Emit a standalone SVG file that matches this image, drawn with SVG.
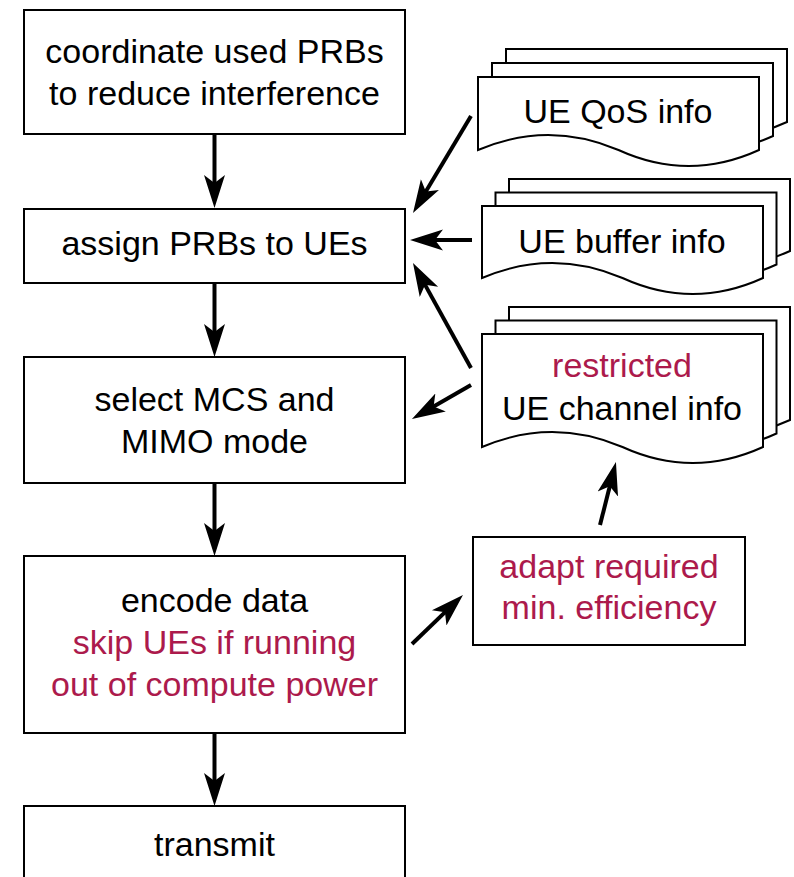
<svg xmlns="http://www.w3.org/2000/svg" width="794" height="877" viewBox="0 0 794 877">
<defs>
<style>
.box{fill:#fff;stroke:#000;stroke-width:2}
.doc{fill:#fff;stroke:#000;stroke-width:2;stroke-linejoin:miter}
.t{font-family:"Liberation Sans",Arial,sans-serif;font-size:34px;fill:#000;text-anchor:middle}
.r{fill:#AC1A4C}
.c{stroke:#000;stroke-width:4;fill:none;marker-end:url(#ah)}
</style>
<marker id="ah" markerUnits="userSpaceOnUse" markerWidth="40" markerHeight="30" viewBox="0 -15 40 30" refX="10" refY="0" orient="auto">
<path d="M0,-10.5 L33,0 L0,10.5 L8,0 Z" fill="#000"/>
</marker>
<path id="docQ" d="M0,0 H281 V73 Q210.75,105 140.5,73 Q70.25,43 0,73 Z"/>
<path id="docB" d="M0,0 H281 V72 Q210.75,104 140.5,72 Q70.25,42 0,72 Z"/>
<path id="docC" d="M0,0 H281 V113 Q210.75,145 140.5,113 Q70.25,83 0,113 Z"/>
</defs>

<g id="coordinate">
<rect class="box" x="24" y="10" width="381" height="124"/>
<text class="t" x="214.5" y="63">coordinate used PRBs</text>
<text class="t" x="214.5" y="105">to reduce interference</text>
</g>

<g id="assign">
<rect class="box" x="24" y="209" width="381" height="74"/>
<text class="t" x="214.5" y="255">assign PRBs to UEs</text>
</g>

<g id="select">
<rect class="box" x="24" y="357" width="381" height="126"/>
<text class="t" x="214.5" y="411">select MCS and</text>
<text class="t" x="214.5" y="453">MIMO mode</text>
</g>

<g id="encode">
<rect class="box" x="24" y="556" width="381" height="177"/>
<text class="t" x="214.5" y="612">encode data</text>
<text class="t r" x="214.5" y="654">skip UEs if running</text>
<text class="t r" x="214.5" y="696">out of compute power</text>
</g>

<g id="transmit">
<rect class="box" x="24" y="806" width="381" height="100"/>
<text class="t" x="214.5" y="856">transmit</text>
</g>

<g id="qos">
<use href="#docQ" class="doc" x="506" y="49"/>
<use href="#docQ" class="doc" x="492" y="63"/>
<use href="#docQ" class="doc" x="478" y="77"/>
<text class="t" x="618" y="123">UE QoS info</text>
</g>

<g id="buffer">
<use href="#docB" class="doc" x="509" y="179"/>
<use href="#docB" class="doc" x="495.5" y="192.5"/>
<use href="#docB" class="doc" x="482" y="206"/>
<text class="t" x="622" y="253">UE buffer info</text>
</g>

<g id="channel">
<use href="#docC" class="doc" x="509" y="307"/>
<use href="#docC" class="doc" x="495.5" y="320.5"/>
<use href="#docC" class="doc" x="482" y="334"/>
<text class="t r" x="622" y="377">restricted</text>
<text class="t" x="622" y="420">UE channel info</text>
</g>

<g id="adapt">
<rect class="box" x="473" y="537" width="272" height="108"/>
<text class="t r" x="609" y="578">adapt required</text>
<text class="t r" x="609" y="619">min. efficiency</text>
</g>

<g id="connectors">
<line class="c" x1="214.5" y1="134" x2="214.5" y2="185"/>
<line class="c" x1="214.5" y1="283" x2="214.5" y2="334"/>
<line class="c" x1="214.5" y1="483" x2="214.5" y2="533"/>
<line class="c" x1="214.5" y1="733" x2="214.5" y2="783"/>
<line class="c" x1="471" y1="116" x2="424.8" y2="193.3"/>
<line class="c" x1="472" y1="240" x2="433" y2="240"/>
<line class="c" x1="471" y1="368" x2="424.1" y2="283.1"/>
<line class="c" x1="471" y1="385" x2="431.9" y2="407.5"/>
<line class="c" x1="412" y1="644" x2="446.4" y2="610.9"/>
<line class="c" x1="600" y1="525" x2="610.3" y2="484.3"/>
</g>
</svg>
